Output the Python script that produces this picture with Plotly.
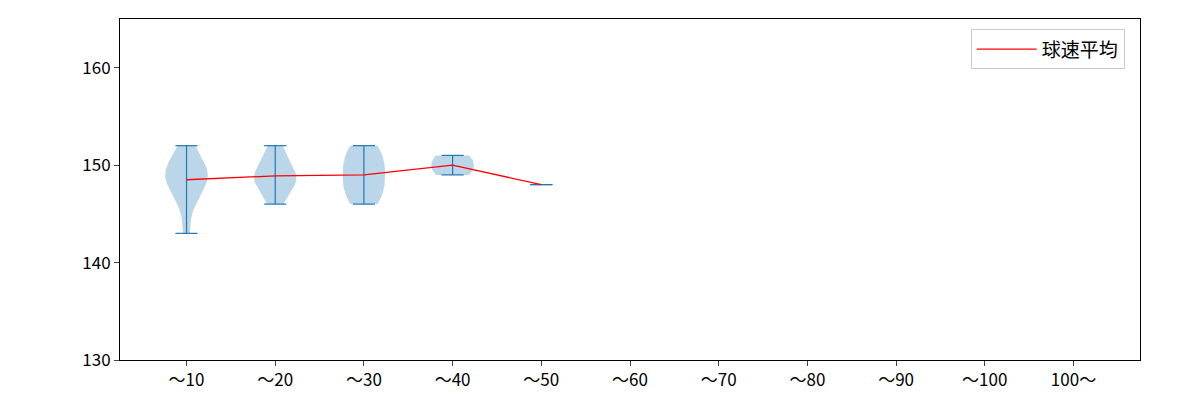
import numpy as np
import plotly.graph_objects as go

categories = ["～10","～20","～30","～40","～50","～60","～70","～80","～90","～100","100～"]
samples = {
    "～10": [143,146,147,148,148,149,149,149,150,150,151,152],
    "～20": [146,147,148,148,149,149,149,150,151,152],
    "～30": [146,147,148,149,150,151,152],
    "～40": [149,150,151],
    "～50": [148],
}
C = "#1f77b4"
fig = go.Figure()
mx, my = [], []
for i, cat in enumerate(categories):
    pos = i + 1
    d = samples.get(cat)
    if not d:
        continue
    d = np.array(d, float)
    lo, hi = d.min(), d.max()
    mx.append(pos); my.append(d.mean())
    if len(d) > 1:
        bw = d.std(ddof=1) * len(d) ** (-0.2)
        ys = np.linspace(lo, hi, 100)
        dens = np.exp(-0.5 * ((ys[:, None] - d[None, :]) / bw) ** 2).sum(1)
        w = dens / dens.max() * 0.24
        fig.add_trace(go.Scatter(x=np.concatenate([pos - w, (pos + w)[::-1]]),
                                 y=np.concatenate([ys, ys[::-1]]), fill="toself",
                                 fillcolor="rgba(31,119,180,0.3)", line=dict(width=0),
                                 mode="lines", showlegend=False, hoverinfo="skip"))
    fig.add_trace(go.Scatter(x=[pos, pos], y=[lo, hi], mode="lines", line=dict(color=C, width=1.2), showlegend=False))
    for v in (lo, hi):
        fig.add_trace(go.Scatter(x=[pos - 0.125, pos + 0.125], y=[v, v], mode="lines",
                                 line=dict(color=C, width=1.2), showlegend=False))
fig.add_trace(go.Scatter(x=mx, y=my, mode="lines", line=dict(color="red", width=1.3), name="球速平均"))
fig.update_layout(
    width=1200, height=400, plot_bgcolor="white", paper_bgcolor="white",
    margin=dict(l=112, r=68, t=11, b=48),
    font=dict(family="Noto Sans CJK JP", size=17, color="black"),
    legend=dict(x=0.985, y=0.97, xanchor="right", yanchor="top", bordercolor="#ccc", borderwidth=1,
                font=dict(size=19), itemwidth=60),
)
fig.update_xaxes(range=[0.25, 11.75], tickvals=list(range(1, 12)), ticktext=categories,
                 showline=True, mirror=True, linecolor="black", ticks="outside", showgrid=False, zeroline=False)
fig.update_yaxes(range=[130, 165], tickvals=[130, 140, 150, 160],
                 showline=True, mirror=True, linecolor="black", ticks="outside", showgrid=False, zeroline=False)
fig.write_html("out.html")
